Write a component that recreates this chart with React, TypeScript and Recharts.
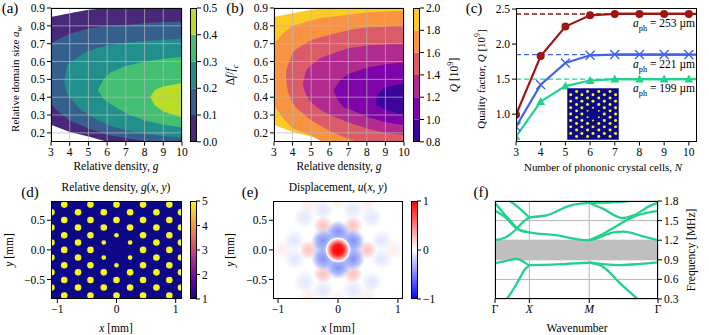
import {
  Area,
  Bar,
  BarChart,
  ComposedChart,
  Line,
  LineChart,
  ReferenceArea,
  ReferenceLine,
  Scatter,
  ScatterChart,
  XAxis,
  YAxis,
  ZAxis,
  CartesianGrid,
} from "recharts";

const FONT = "'Liberation Serif', serif";
const TICK = { fill: "#000", fontSize: 11.5, fontFamily: FONT };
const TICK_LINE = { stroke: "#000" };

// contour bands: [g, lower alpha, upper alpha]
const G_TICKS = [3, 4, 5, 6, 7, 8, 9, 10];
const A_TICKS = [0.2, 0.3, 0.4, 0.5, 0.6, 0.7, 0.8, 0.9];

const GAP_L0 = [[3, 0.245, 0.85], [4, 0.205, 0.87], [5, 0.18, 0.89], [6, 0.15, 0.9], [10, 0.15, 0.9]];
const GAP_L1 = [[3, 0.36, 0.7], [3.5, 0.31, 0.73], [4, 0.27, 0.755], [5, 0.225, 0.785], [6, 0.19, 0.8], [7, 0.17, 0.805], [8, 0.155, 0.815], [8.8, 0.15, 0.82], [10, 0.15, 0.825]];
const GAP_L2 = [[3.7, 0.49, 0.49], [3.85, 0.42, 0.58], [4.5, 0.34, 0.63], [5, 0.3, 0.66], [6, 0.245, 0.69], [7, 0.215, 0.705], [8, 0.195, 0.715], [9, 0.183, 0.722], [10, 0.174, 0.728]];
const GAP_L3 = [[5.5, 0.44, 0.44], [5.8, 0.39, 0.5], [6.2, 0.36, 0.54], [7, 0.31, 0.575], [8, 0.27, 0.6], [9, 0.245, 0.615], [10, 0.23, 0.626]];
const GAP_L4 = [[8.3, 0.4, 0.4], [8.55, 0.355, 0.44], [9, 0.32, 0.46], [10, 0.286, 0.48]];
const GAP_BANDS = [GAP_L0, GAP_L1, GAP_L2, GAP_L3, GAP_L4];
const GAP_COLORS = ["#482878", "#35608d", "#21908c", "#43bf71", "#bade28"];
const GAP_LEVELS = [0, 0.1, 0.2, 0.3, 0.4, 0.5];

const Q_L0 = [[3, 0.245, 0.85], [4, 0.205, 0.87], [5, 0.18, 0.89], [5.8, 0.15, 0.9], [10, 0.15, 0.9]];
const Q_L1 = [[3, 0.355, 0.7], [3.5, 0.28, 0.76], [4, 0.225, 0.8], [5, 0.185, 0.83], [5.6, 0.15, 0.845], [6, 0.15, 0.85], [8, 0.15, 0.875], [10, 0.15, 0.885]];
const Q_L2 = [[3.65, 0.5, 0.55], [3.75, 0.43, 0.58], [4, 0.37, 0.65], [4.2, 0.34, 0.67], [5, 0.27, 0.72], [6, 0.21, 0.75], [7, 0.165, 0.775], [7.5, 0.15, 0.785], [8, 0.15, 0.79], [10, 0.15, 0.8]];
const Q_L3 = [[4.55, 0.47, 0.47], [4.7, 0.42, 0.54], [4.8, 0.4, 0.56], [5, 0.37, 0.58], [5.5, 0.33, 0.62], [6, 0.3, 0.64], [7, 0.26, 0.675], [8, 0.225, 0.69], [9, 0.2, 0.695], [10, 0.19, 0.7]];
const Q_L4 = [[6.2, 0.44, 0.44], [6.4, 0.39, 0.47], [6.6, 0.36, 0.5], [6.8, 0.34, 0.515], [7, 0.335, 0.53], [8, 0.29, 0.565], [9, 0.26, 0.585], [10, 0.243, 0.595]];
const Q_L5 = [[8.5, 0.355, 0.4], [8.9, 0.335, 0.45], [9, 0.33, 0.455], [10, 0.3, 0.48]];
const Q_BANDS = [Q_L0, Q_L1, Q_L2, Q_L3, Q_L4, Q_L5];
const Q_COLORS = ["#fdca26", "#f89441", "#db5c68", "#b12a90", "#7e03a8", "#3d049b"];
const Q_LEVELS = [0.8, 1.0, 1.2, 1.4, 1.6, 1.8, 2.0];

// panel c
const CELLS = [3, 4, 5, 6, 7, 8, 9, 10];
const Q_RED = [0.99, 1.83, 2.25, 2.41, 2.43, 2.43, 2.43, 2.43];
const Q_BLUE = [0.82, 1.42, 1.73, 1.84, 1.85, 1.85, 1.85, 1.85];
const Q_GREEN = [0.68, 1.18, 1.4, 1.48, 1.5, 1.5, 1.5, 1.5];
const Q_LIMITS = { red: 2.43, blue: 1.85, green: 1.5 };
const C_RED = "#a11414";
const C_BLUE = "#4063ea";
const C_GREEN = "#22d18c";

// panel d lattice
const ROWS_A = [0.765, 0.506, 0.247, 0, -0.26, -0.51, -0.77];
const COLS_A = [-0.883, -0.44, 0, 0.449, 0.893];
const ROWS_B = [0.636, 0.377, 0.124, -0.13, -0.38, -0.635];
const COLS_B = [-1.1, -0.65, -0.215, 0.23, 0.675, 1.09];
const SMALL_DOTS = [[0, 0.247], [0, -0.26], [-0.215, 0.124], [0.23, 0.124], [-0.215, -0.13], [0.23, -0.13]];
const INSET_ROWS = [0.892, -0.892];

const isSmall = (x, y) => SMALL_DOTS.some(([a, b]) => a === x && b === y);
const dots = [
  ...ROWS_A.flatMap((y) => COLS_A.map((x) => ({ x, y, z: isSmall(x, y) ? 0.5 : 1 }))),
  ...ROWS_B.flatMap((y) => COLS_B.map((x) => ({ x, y, z: isSmall(x, y) ? 0.5 : 1 }))),
].filter((d) => !(d.x === 0 && d.y === 0));
const insetDots = [
  ...dots,
  ...INSET_ROWS.flatMap((y) => COLS_B.map((x) => ({ x, y, z: 1 }))),
];

// panel e lobes
const LOBE_CORE = [{ x: 0, y: 0, z: 0.72 }];
const LOBE_BLUE = [
  { x: 0, y: 0.31, z: 0.55 }, { x: 0.26, y: 0.155, z: 0.55 }, { x: 0.26, y: -0.155, z: 0.55 },
  { x: 0, y: -0.31, z: 0.55 }, { x: -0.26, y: -0.155, z: 0.55 }, { x: -0.26, y: 0.155, z: 0.55 },
];
const LOBE_RING = [
  { x: 0.27, y: 0, z: 0.4 }, { x: 0.135, y: 0.235, z: 0.4 }, { x: -0.135, y: 0.235, z: 0.4 },
  { x: -0.27, y: 0, z: 0.4 }, { x: -0.135, y: -0.235, z: 0.4 }, { x: 0.135, y: -0.235, z: 0.4 },
];
const LOBE_PINK = [
  { x: 0.49, y: 0, z: 0.4 }, { x: 0.25, y: 0.41, z: 0.4 }, { x: -0.25, y: 0.41, z: 0.4 },
  { x: -0.49, y: 0, z: 0.4 }, { x: -0.25, y: -0.41, z: 0.4 }, { x: 0.25, y: -0.41, z: 0.4 },
];
const LOBE_PALE = [
  { x: 0.25, y: 0.68, z: 0.5 }, { x: -0.25, y: 0.68, z: 0.5 }, { x: 0.56, y: 0.55, z: 0.5 }, { x: -0.56, y: 0.55, z: 0.5 },
  { x: 0.73, y: 0.16, z: 0.5 }, { x: -0.73, y: 0.16, z: 0.5 }, { x: 0.73, y: -0.15, z: 0.5 }, { x: -0.73, y: -0.15, z: 0.5 },
  { x: 0.56, y: -0.54, z: 0.5 }, { x: -0.56, y: -0.54, z: 0.5 }, { x: 0.25, y: -0.68, z: 0.5 }, { x: -0.25, y: -0.68, z: 0.5 },
];
const LOBE_FAINT = [
  { x: 0.93, y: 0, z: 0.45 }, { x: -0.93, y: 0, z: 0.45 }, { x: 0.48, y: 0.78, z: 0.45 }, { x: -0.48, y: 0.78, z: 0.45 },
  { x: 0.48, y: -0.78, z: 0.45 }, { x: -0.48, y: -0.78, z: 0.45 }, { x: 0, y: 0.82, z: 0.3 }, { x: 0, y: -0.82, z: 0.3 },
];

// panel f branches, x runs along Gamma-X-M-Gamma
const K_TICKS = [0, 1, 2.74, 4.74];
const K_NAMES = ["Γ", "X", "M", "Γ"];
const F_TICKS = [0.3, 0.6, 0.9, 1.2, 1.5, 1.8];
const BRANCHES = [
  [[0.34, 0.3], [0.5, 0.42], [0.7, 0.6], [0.85, 0.74], [1, 0.82]],
  [[0, 0.85], [0.3, 0.88], [0.63, 0.915], [0.8, 0.88], [1, 0.82], [2, 0.835], [2.74, 0.855], [3.2, 0.83], [3.64, 0.82], [4.2, 0.835], [4.74, 0.86]],
  [[2.74, 0.86], [3.15, 0.79], [3.64, 0.54], [4.13, 0.31]],
  [[0, 1.2], [0.3, 1.24], [0.6, 1.36], [0.8, 1.47], [1, 1.545], [1.5, 1.58], [2.18, 1.73], [2.74, 1.77], [3.4, 1.78], [3.93, 1.8]],
  [[0, 1.65], [0.3, 1.55], [0.63, 1.38], [1, 1.32], [1.7, 1.28], [2.74, 1.2], [3.45, 1.32], [3.74, 1.33], [4.3, 1.26], [4.74, 1.2]],
  [[0, 1.77], [0.44, 1.5], [0.73, 1.35], [1, 1.32]],
  [[0.44, 1.8], [0.73, 1.68], [1, 1.545]],
  [[2.74, 1.77], [3.15, 1.68], [3.69, 1.54], [4.03, 1.58], [4.52, 1.73], [4.74, 1.77]],
  [[2.74, 1.2], [3.15, 1.3], [4.13, 1.58], [4.74, 1.65]],
];

const PLASMA_STOPS = ["#f0f921", "#fdb42f", "#ed7953", "#cc4778", "#9c179e", "#5c01a6", "#0d0887"];
const BWR_STOPS = ["#ff0000", "#ff8080", "#ffffff", "#8080ff", "#0000ff"];

const Frame = ({ x, y, w, h }) => (
  <div
    style={{ position: "absolute", left: x, top: y, width: w, height: h, border: "1px solid #000", boxSizing: "border-box", pointerEvents: "none" }}
  />
);

const Txt = ({ x, y, rot = 0, size = 11.5, children }) => (
  <div
    style={{
      position: "absolute",
      left: x,
      top: y,
      transform: `translate(-50%, -50%) rotate(${rot}deg)`,
      whiteSpace: "nowrap",
      fontSize: size,
      lineHeight: 1,
      fontFamily: FONT,
      color: "#000",
    }}
  >
    {children}
  </div>
);

const Sub = ({ children }) => <sub style={{ fontSize: "0.72em", lineHeight: 0 }}>{children}</sub>;
const Sup = ({ children }) => <sup style={{ fontSize: "0.72em", lineHeight: 0 }}>{children}</sup>;
const Place = ({ x, y, children }) => <div style={{ position: "absolute", left: x, top: y }}>{children}</div>;

const minus = (v) => String(v).replace("-", "−");

function ContourPanel({ bands, colors, x, y, w, h, left }) {
  const L = left;
  return (
    <Place x={x - L} y={y - 6}>
      <ComposedChart width={w + L + 8} height={h + 6 + 22} margin={{ top: 6, right: 8, bottom: 0, left: 0 }}>
        <XAxis type="number" dataKey="g" domain={[3, 10]} ticks={G_TICKS} interval={0} tick={TICK} tickLine={TICK_LINE} axisLine={false} tickSize={4} tickMargin={2} height={22} allowDataOverflow />
        <YAxis type="number" domain={[0.15, 0.9]} ticks={A_TICKS} interval={0} tick={TICK} tickLine={TICK_LINE} axisLine={false} tickSize={4} tickMargin={2} width={L} allowDataOverflow tickFormatter={(v) => v.toFixed(1)} />
        {bands.map((band, i) => (
          <Area
            key={i}
            data={band.map(([g, low, high]) => ({ g, range: [low, high] }))}
            dataKey="range"
            type="linear"
            fill={colors[i]}
            fillOpacity={1}
            stroke="none"
            dot={false}
            activeDot={false}
            isAnimationActive={false}
          />
        ))}
        {G_TICKS.map((g) => (
          <ReferenceLine key={g} x={g} stroke="#b8b8b8" strokeOpacity={0.7} strokeWidth={1} />
        ))}
        {A_TICKS.map((a) => (
          <ReferenceLine key={a} y={a} stroke="#b8b8b8" strokeOpacity={0.7} strokeWidth={1} />
        ))}
      </ComposedChart>
    </Place>
  );
}

function StepBar({ levels, colors, x, y, w, h, fmt }) {
  const row = { name: "bar", base: levels[0] };
  levels.slice(1).forEach((v, i) => {
    row["s" + i] = v - levels[i];
  });
  return (
    <Place x={x} y={y - 6}>
      <BarChart width={w + 34} height={h + 12} data={[row]} barCategoryGap={0} margin={{ top: 6, right: 0, bottom: 6, left: 0 }}>
        <XAxis dataKey="name" hide />
        <YAxis orientation="right" type="number" domain={[levels[0], levels[levels.length - 1]]} ticks={levels} interval={0} tick={TICK} tickLine={TICK_LINE} axisLine={false} tickSize={4} tickMargin={2} width={34} allowDataOverflow tickFormatter={fmt} />
        <Bar dataKey="base" stackId="a" fill="none" isAnimationActive={false} />
        {colors.map((c, i) => (
          <Bar key={i} dataKey={"s" + i} stackId="a" fill={c} isAnimationActive={false} />
        ))}
      </BarChart>
    </Place>
  );
}

function GradientBar({ id, stops, domain, ticks, x, y, w, h }) {
  return (
    <Place x={x} y={y - 6}>
      <BarChart width={w + 30} height={h + 12} data={[{ name: "bar", span: domain }]} barCategoryGap={0} margin={{ top: 6, right: 0, bottom: 6, left: 0 }}>
        <defs>
          <linearGradient id={id} x1="0" y1="0" x2="0" y2="1">
            {stops.map((c, i) => (
              <stop key={i} offset={i / (stops.length - 1)} stopColor={c} />
            ))}
          </linearGradient>
        </defs>
        <XAxis dataKey="name" hide />
        <YAxis orientation="right" type="number" domain={domain} ticks={ticks} interval={0} tick={TICK} tickLine={TICK_LINE} axisLine={false} tickSize={4} tickMargin={2} width={30} tickFormatter={minus} />
        <Bar dataKey="span" fill={`url(#${id})`} isAnimationActive={false} />
      </BarChart>
    </Place>
  );
}

const CircleDot = ({ cx, cy, key }) => <circle key={key} cx={cx} cy={cy} r={4} fill={C_RED} />;
const CrossDot = ({ cx, cy, key }) => (
  <path key={key} d={`M${cx - 4.5} ${cy - 4.5}L${cx + 4.5} ${cy + 4.5}M${cx - 4.5} ${cy + 4.5}L${cx + 4.5} ${cy - 4.5}`} stroke={C_BLUE} strokeWidth={1.4} fill="none" />
);
const TriDot = ({ cx, cy, key }) => <path key={key} d={`M${cx} ${cy - 4.6}L${cx + 4.4} ${cy + 3.4}L${cx - 4.4} ${cy + 3.4}Z`} fill={C_GREEN} />;

function QualityPanel() {
  const rows = CELLS.map((n, i) => ({ n, red: Q_RED[i], blue: Q_BLUE[i], green: Q_GREEN[i] }));
  const top = 10.33;
  return (
    <Place x={516 - 32} y={8 - 6}>
      <LineChart width={181 + 32 + 8} height={133.5 + 6 + 22} data={rows} margin={{ top: 6, right: 8, bottom: 0, left: 0 }}>
        <XAxis type="number" dataKey="n" domain={[3, top]} ticks={CELLS} interval={0} tick={TICK} tickLine={TICK_LINE} axisLine={false} tickSize={4} tickMargin={2} height={22} allowDataOverflow />
        <YAxis type="number" domain={[0.61, 2.515]} ticks={[1, 1.5, 2, 2.5]} interval={0} tick={TICK} tickLine={TICK_LINE} axisLine={false} tickSize={4} tickMargin={2} width={32} allowDataOverflow tickFormatter={(v) => v.toFixed(1)} />
        <ReferenceLine y={Q_LIMITS.red} stroke={C_RED} strokeWidth={1.4} strokeDasharray="5 3" />
        <ReferenceLine y={Q_LIMITS.blue} stroke={C_BLUE} strokeWidth={1.4} strokeDasharray="5 3" />
        <ReferenceLine y={Q_LIMITS.green} stroke={C_GREEN} strokeWidth={1.4} strokeDasharray="5 3" />
        <ReferenceLine segment={[{ x: 7, y: Q_LIMITS.red }, { x: top, y: Q_LIMITS.red }]} stroke={C_RED} strokeWidth={2.2} />
        <ReferenceLine segment={[{ x: 7, y: Q_LIMITS.blue }, { x: top, y: Q_LIMITS.blue }]} stroke={C_BLUE} strokeWidth={2.2} />
        <ReferenceLine segment={[{ x: 7, y: Q_LIMITS.green }, { x: top, y: Q_LIMITS.green }]} stroke={C_GREEN} strokeWidth={2.2} />
        <Line dataKey="red" type="linear" stroke={C_RED} strokeWidth={2.2} dot={CircleDot} activeDot={false} isAnimationActive={false} />
        <Line dataKey="blue" type="linear" stroke={C_BLUE} strokeWidth={2.2} dot={CrossDot} activeDot={false} isAnimationActive={false} />
        <Line dataKey="green" type="linear" stroke={C_GREEN} strokeWidth={2.2} dot={TriDot} activeDot={false} isAnimationActive={false} />
      </LineChart>
    </Place>
  );
}

function Inset() {
  return (
    <Place x={567} y={88}>
      <ScatterChart width={52} height={52} margin={{ top: 0, right: 0, bottom: 0, left: 0 }}>
        <XAxis type="number" dataKey="x" domain={[-1.03, 1.03]} hide allowDataOverflow />
        <YAxis type="number" dataKey="y" domain={[-1.03, 1.03]} hide allowDataOverflow />
        <ZAxis type="number" dataKey="z" domain={[0.5, 1]} range={[3, 7]} />
        <ReferenceArea x1={-1.03} x2={1.03} y1={-1.03} y2={1.03} fill="#0d0887" fillOpacity={1} stroke="#8e8ecb" />
        <Scatter data={insetDots} fill="#f7f71e" isAnimationActive={false} />
      </ScatterChart>
    </Place>
  );
}

function DensityPanel() {
  return (
    <Place x={51 - 40} y={201 - 6}>
      <ScatterChart width={131 + 40 + 8} height={98 + 6 + 24} margin={{ top: 6, right: 8, bottom: 0, left: 0 }}>
        <XAxis type="number" dataKey="x" domain={[-1.107, 1.107]} ticks={[-1, 0, 1]} interval={0} tick={TICK} tickLine={TICK_LINE} axisLine={false} tickSize={4} tickMargin={2} height={24} allowDataOverflow tickFormatter={minus} />
        <YAxis type="number" dataKey="y" domain={[-0.83, 0.826]} ticks={[-0.5, 0, 0.5]} interval={0} tick={TICK} tickLine={TICK_LINE} axisLine={false} tickSize={4} tickMargin={2} width={40} allowDataOverflow tickFormatter={(v) => minus(v.toFixed(1))} />
        <ZAxis type="number" dataKey="z" domain={[0.5, 1]} range={[17, 34]} />
        <ReferenceArea x1={-1.107} x2={1.107} y1={-0.83} y2={0.826} fill="#0d0887" fillOpacity={1} stroke="none" />
        <Scatter data={dots} fill="#f7f71e" isAnimationActive={false} />
      </ScatterChart>
    </Place>
  );
}

const glowStops = (color, peak = 1) => [
  <stop key="a" offset="0" stopColor={color} stopOpacity={peak} />,
  <stop key="b" offset="0.55" stopColor={color} stopOpacity={peak * 0.6} />,
  <stop key="c" offset="1" stopColor={color} stopOpacity={0} />,
];

function DisplacementPanel() {
  return (
    <Place x={273 - 40} y={201 - 6}>
      <ScatterChart width={130 + 40 + 8} height={98 + 6 + 24} margin={{ top: 6, right: 8, bottom: 0, left: 0 }}>
        <defs>
          <radialGradient id="core">
            <stop offset="0" stopColor="#ff0000" />
            <stop offset="0.42" stopColor="#ff1c1c" />
            <stop offset="0.72" stopColor="#ffa0a0" />
            <stop offset="0.9" stopColor="#ffffff" />
            <stop offset="1" stopColor="#ffffff" stopOpacity={0} />
          </radialGradient>
          <radialGradient id="blueLobe">{glowStops("#7f90f5")}</radialGradient>
          <radialGradient id="ringLobe">{glowStops("#c6cefb")}</radialGradient>
          <radialGradient id="pinkLobe">{glowStops("#f8c0c0")}</radialGradient>
          <radialGradient id="paleLobe">{glowStops("#e2e6fd")}</radialGradient>
          <radialGradient id="faintLobe">{glowStops("#fcecec")}</radialGradient>
        </defs>
        <XAxis type="number" dataKey="x" domain={[-1.085, 1.085]} ticks={[-1, 0, 1]} interval={0} tick={TICK} tickLine={TICK_LINE} axisLine={false} tickSize={4} tickMargin={2} height={24} allowDataOverflow tickFormatter={minus} />
        <YAxis type="number" dataKey="y" domain={[-0.83, 0.826]} ticks={[-0.5, 0, 0.5]} interval={0} tick={TICK} tickLine={TICK_LINE} axisLine={false} tickSize={4} tickMargin={2} width={40} allowDataOverflow tickFormatter={(v) => minus(v.toFixed(1))} />
        <ZAxis type="number" dataKey="z" domain={[0, 1]} range={[0, 720]} />
        <Scatter data={LOBE_FAINT} fill="url(#faintLobe)" isAnimationActive={false} />
        <Scatter data={LOBE_PALE} fill="url(#paleLobe)" isAnimationActive={false} />
        <Scatter data={LOBE_PINK} fill="url(#pinkLobe)" isAnimationActive={false} />
        <Scatter data={LOBE_RING} fill="url(#ringLobe)" isAnimationActive={false} />
        <Scatter data={LOBE_BLUE} fill="url(#blueLobe)" isAnimationActive={false} />
        <Scatter data={LOBE_CORE} fill="url(#core)" isAnimationActive={false} />
      </ScatterChart>
    </Place>
  );
}

const KTick = ({ x, y, payload }) => {
  const name = K_NAMES[K_TICKS.indexOf(payload.value)];
  return (
    <text x={x} y={y + 8} textAnchor="middle" fontSize={11.5} fontFamily={FONT} fontStyle={name === "Γ" ? "normal" : "italic"} fill="#000">
      {name}
    </text>
  );
};

function BandsPanel() {
  return (
    <Place x={495 - 8} y={201 - 6}>
      <ComposedChart width={163 + 8 + 30} height={98 + 6 + 24} margin={{ top: 6, right: 0, bottom: 0, left: 8 }}>
        <CartesianGrid stroke="#b4b4b4" strokeWidth={1} verticalValues={K_TICKS} horizontalValues={F_TICKS} />
        <XAxis type="number" dataKey="k" domain={[0, 4.74]} ticks={K_TICKS} interval={0} tick={KTick} tickLine={TICK_LINE} axisLine={false} tickSize={4} height={24} allowDataOverflow />
        <YAxis orientation="right" type="number" domain={[0.3, 1.8]} ticks={F_TICKS} interval={0} tick={TICK} tickLine={TICK_LINE} axisLine={false} tickSize={4} tickMargin={2} width={30} allowDataOverflow tickFormatter={(v) => v.toFixed(1)} />
        <ReferenceArea y1={0.9} y2={1.2} fill="#bcbcbc" fillOpacity={0.95} stroke="none" />
        {BRANCHES.map((b, i) => (
          <Line
            key={i}
            data={b.map(([k, f]) => ({ k, f }))}
            dataKey="f"
            type="monotone"
            stroke={C_GREEN}
            strokeWidth={2.3}
            dot={false}
            activeDot={false}
            isAnimationActive={false}
          />
        ))}
      </ComposedChart>
    </Place>
  );
}

export default function App() {
  return (
    <div style={{ position: "absolute", left: 0, top: 0, width: 709, height: 335, overflow: "hidden", background: "#fff", fontFamily: FONT }}>
      <ContourPanel bands={GAP_BANDS} colors={GAP_COLORS} x={51} y={7.7} w={131} h={133.8} left={30} />
      <Frame x={51} y={7.5} w={131} h={134.5} />
      <StepBar levels={GAP_LEVELS} colors={GAP_COLORS} x={190} y={7.7} w={7} h={133.8} fmt={(v) => v.toFixed(1)} />
      <Frame x={190} y={7.5} w={7} h={134.5} />

      <ContourPanel bands={Q_BANDS} colors={Q_COLORS} x={274} y={7.7} w={130} h={133.8} left={30} />
      <Frame x={274} y={7.5} w={130} h={134.5} />
      <StepBar levels={Q_LEVELS} colors={[...Q_COLORS].reverse()} x={412.5} y={7.7} w={7} h={133.8} fmt={(v) => v.toFixed(1)} />
      <Frame x={412.5} y={7.5} w={7} h={134.5} />

      <QualityPanel />
      <Frame x={516} y={7.5} w={181} h={134.5} />
      <Inset />

      <DensityPanel />
      <Frame x={51} y={200.7} w={131} h={98.5} />
      <GradientBar id="plasmaBar" stops={PLASMA_STOPS} domain={[1, 5]} ticks={[1, 2, 3, 4, 5]} x={190} y={201} w={6} h={98} />
      <Frame x={190} y={200.7} w={6.5} h={98.5} />

      <DisplacementPanel />
      <Frame x={273} y={200.7} w={130} h={98.5} />
      <GradientBar id="bwrBar" stops={BWR_STOPS} domain={[-1, 1]} ticks={[-1, 0, 1]} x={411} y={201} w={6} h={98} />
      <Frame x={411} y={200.7} w={6.5} h={98.5} />

      <BandsPanel />
      <Frame x={495} y={200.7} w={163} h={98.5} />

      <Txt x={10} y={8} size={15}>(a)</Txt>
      <Txt x={235} y={8} size={15}>(b)</Txt>
      <Txt x={474} y={8} size={15}>(c)</Txt>
      <Txt x={30} y={192} size={15}>(d)</Txt>
      <Txt x={250} y={192} size={15}>(e)</Txt>
      <Txt x={481} y={192} size={15}>(f)</Txt>

      <Txt x={15} y={79} rot={-90} size={11}>Relative domain size <i>a</i><Sub><i>w</i></Sub></Txt>
      <Txt x={116} y={167}>Relative density, <i>g</i></Txt>
      <Txt x={231} y={75} rot={-90}>Δ<i>f</i>/<i>f</i><Sub><i>c</i></Sub></Txt>
      <Txt x={339} y={167}>Relative density, <i>g</i></Txt>
      <Txt x={455} y={75} rot={-90}><i>Q</i> [10<Sup>9</Sup>]</Txt>
      <Txt x={481} y={79} rot={-90} size={11}>Quality factor, <i>Q</i> [10<Sup>9</Sup>]</Txt>
      <Txt x={603} y={167} size={10.9}>Number of phononic crystal cells, <i>N</i></Txt>
      <Txt x={664} y={24}><i>a</i><Sub>ph</Sub> = 253 µm</Txt>
      <Txt x={664} y={65}><i>a</i><Sub>ph</Sub> = 221 µm</Txt>
      <Txt x={664} y={89}><i>a</i><Sub>ph</Sub> = 199 µm</Txt>

      <Txt x={116} y={188}>Relative density, <i>g</i>(<i>x</i>, <i>y</i>)</Txt>
      <Txt x={10} y={250} rot={-90}><i>y</i> [mm]</Txt>
      <Txt x={116} y={329}><i>x</i> [mm]</Txt>
      <Txt x={338} y={188}>Displacement, <i>u</i>(<i>x</i>, <i>y</i>)</Txt>
      <Txt x={231} y={250} rot={-90}><i>y</i> [mm]</Txt>
      <Txt x={338} y={329}><i>x</i> [mm]</Txt>
      <Txt x={577} y={329}>Wavenumber</Txt>
      <Txt x={692} y={250} rot={-90}>Frequency [MHz]</Txt>
    </div>
  );
}
